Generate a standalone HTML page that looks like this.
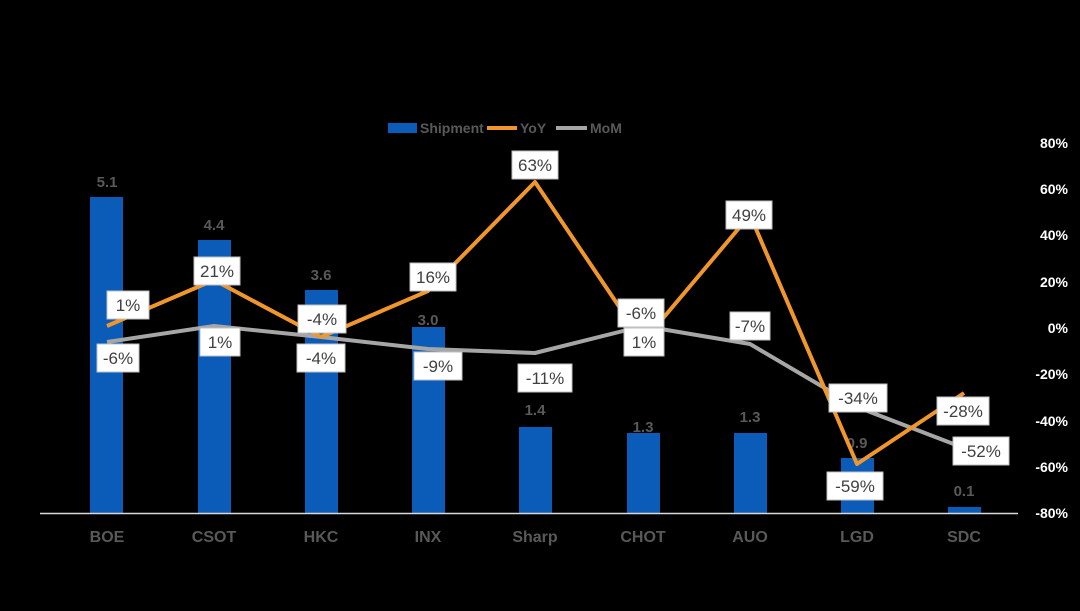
<!DOCTYPE html>
<html><head><meta charset="utf-8"><style>
html,body{margin:0;padding:0;background:#000;}
svg{display:block;font-family:"Liberation Sans",Arial,sans-serif;}
</style></head><body>
<svg width="1080" height="611" viewBox="0 0 1080 611">
<rect width="1080" height="611" fill="#000"/>
<!-- legend -->
<rect x="388" y="123" width="29" height="10" fill="#0a5cb8"/>
<text x="420" y="133" font-size="14" font-weight="bold" fill="#595959">Shipment</text>
<line x1="487" y1="128" x2="517" y2="128" stroke="#f0962a" stroke-width="4"/>
<text x="520" y="133" font-size="14" font-weight="bold" fill="#595959">YoY</text>
<line x1="556" y1="128" x2="587" y2="128" stroke="#a6a6a6" stroke-width="4"/>
<text x="590" y="133" font-size="14" font-weight="bold" fill="#595959">MoM</text>
<!-- right axis -->
<g font-size="14" font-weight="bold" fill="#fff" text-anchor="end">
<text x="1068" y="148">80%</text><text x="1068" y="194">60%</text><text x="1068" y="240">40%</text>
<text x="1068" y="287">20%</text><text x="1068" y="333">0%</text><text x="1068" y="379">-20%</text>
<text x="1068" y="426">-40%</text><text x="1068" y="472">-60%</text><text x="1068" y="518">-80%</text>
</g>
<!-- bars -->
<g fill="#0a5cb8">
<rect x="90" y="197" width="33" height="316"/>
<rect x="198" y="240" width="33" height="273"/>
<rect x="305" y="290" width="33" height="223"/>
<rect x="412" y="327" width="33" height="186"/>
<rect x="519" y="427" width="33" height="86"/>
<rect x="627" y="433" width="33" height="80"/>
<rect x="734" y="433" width="33" height="80"/>
<rect x="841" y="458" width="33" height="55"/>
<rect x="948" y="507" width="33" height="6"/>
</g>
<line x1="40" y1="513.5" x2="1018" y2="513.5" stroke="#d9d9d9" stroke-width="1.5"/>
<g font-size="15" font-weight="bold" fill="#595959" text-anchor="middle">
<text x="107" y="187">5.1</text><text x="214" y="230">4.4</text><text x="321" y="280">3.6</text>
<text x="428" y="325">3.0</text><text x="535" y="415">1.4</text><text x="643" y="432">1.3</text>
<text x="750" y="422">1.3</text><text x="857" y="448">0.9</text><text x="964" y="496">0.1</text>
</g>
<g font-size="16" font-weight="bold" fill="#595959" text-anchor="middle">
<text x="107" y="542">BOE</text><text x="214" y="542">CSOT</text><text x="321" y="542">HKC</text>
<text x="428" y="542">INX</text><text x="535" y="542">Sharp</text><text x="643" y="542">CHOT</text>
<text x="750" y="542">AUO</text><text x="857" y="542">LGD</text><text x="964" y="542">SDC</text>
</g>
<!-- lines -->
<polyline fill="none" stroke="#a6a6a6" stroke-width="4" stroke-linejoin="round" points="107,342 214,326 321,337 428,349 535,353 643,326 750,344 857,407 964,448"/>
<polyline fill="none" stroke="#f0962a" stroke-width="4" stroke-linejoin="round" points="107,326 214,280 321,337 428,291 535,182 643,342 750,215 857,464 964,393"/>
<!-- data labels -->
<g font-size="17" fill="#404040" text-anchor="middle">
<g stroke="#bfbfbf" stroke-width="1" fill="#fff">
<rect x="107" y="291" width="42" height="28"/>
<rect x="194" y="257" width="46" height="28"/>
<rect x="298" y="305" width="48" height="28"/>
<rect x="410" y="263" width="46" height="28"/>
<rect x="512" y="151" width="46" height="28"/>
<rect x="618" y="299" width="46" height="28"/>
<rect x="726" y="201" width="46" height="28"/>
<rect x="829" y="384" width="58" height="28"/>
<rect x="937" y="397" width="52" height="28"/>
<rect x="97" y="344" width="42" height="28"/>
<rect x="200" y="328" width="40" height="28"/>
<rect x="297" y="344" width="48" height="28"/>
<rect x="414" y="352" width="48" height="28"/>
<rect x="518" y="364" width="54" height="28"/>
<rect x="624" y="328" width="40" height="28"/>
<rect x="730" y="312" width="40" height="28"/>
<rect x="953" y="437" width="56" height="28"/>
<rect x="827" y="472" width="56" height="28"/>
</g>
<text x="128" y="311">1%</text><text x="217" y="277">21%</text><text x="322" y="325">-4%</text>
<text x="433" y="283">16%</text><text x="535" y="171">63%</text><text x="641" y="319">-6%</text>
<text x="749" y="221">49%</text><text x="858" y="404">-34%</text><text x="963" y="417">-28%</text>
<text x="118" y="364">-6%</text><text x="220" y="348">1%</text><text x="321" y="364">-4%</text>
<text x="438" y="372">-9%</text><text x="545" y="384">-11%</text><text x="644" y="348">1%</text>
<text x="750" y="332">-7%</text><text x="981" y="457">-52%</text><text x="855" y="492">-59%</text>
</g>
</svg>
</body></html>
